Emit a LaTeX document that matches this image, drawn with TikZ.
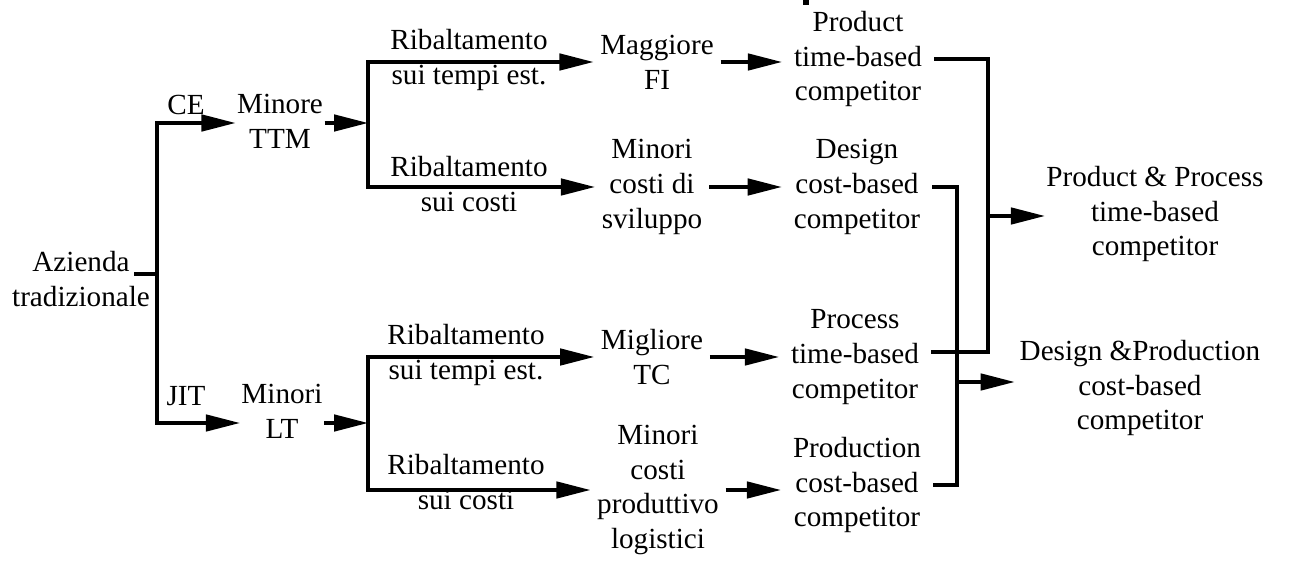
\documentclass[tikz,border=0pt]{standalone}
\usepackage{fontspec}
\setmainfont{Liberation Serif}
\usetikzlibrary{arrows.meta}

\begin{document}
\begin{tikzpicture}[x=0.02cm,y=-0.02cm,line width=1.8pt,
  >={Triangle[length=0.68cm,width=0.33cm]},
  txt/.style={align=center,inner sep=0pt,font=\fontsize{16.6}{19.9}\selectfont},
  mid/.style={txt,inner xsep=3pt},
  comp/.style={txt,inner xsep=6pt}]
\useasboundingbox (0,0) rectangle (1302,567);
% testi
\node[txt] (az) at (81,279) {Azienda\\tradizionale};
\node[txt] (ce) at (186,105) {CE};
\node[txt] (jit) at (186,396) {JIT};
\node[txt] (ttm) at (280,121) {Minore\\TTM};
\node[txt] (lt) at (282,411) {Minori\\LT};
\node[txt] (rt1) at (469,60) {Ribaltamento\\sui tempi est.};
\node[txt] (rc1) at (469,184) {Ribaltamento\\sui costi};
\node[txt] (rt2) at (466,355) {Ribaltamento\\sui tempi est.};
\node[txt] (rc2) at (466,482) {Ribaltamento\\sui costi};
\node[mid] (mag) at (657,62) {Maggiore\\FI};
\node[mid] (svil) at (652,187) {Minori\\costi di\\sviluppo};
\node[mid] (mig) at (652,357) {Migliore\\TC};
\node[mid] (mcp) at (658,490) {Minori\\costi\\produttivo\\logistici};
\node[comp] (ptb) at (858,59) {Product\\time-based\\competitor};
\node[comp] (dcb) at (857,187) {Design\\cost-based\\competitor};
\node[comp] (prc) at (855,357) {Process\\time-based\\competitor};
\node[comp] (pcb) at (857,485) {Production\\cost-based\\competitor};
\node[txt] (pp) at (1155,214) {Product \& Process\\time-based\\competitor};
\node[txt,inner xsep=2pt] (dp) at (1140,388) {Design \&Production\\cost-based\\competitor};
% snodi
\coordinate (j0) at (157,274);
\coordinate (jB) at (368,123);
\coordinate (jC) at (368,423);
\coordinate (kA) at (988,216);
\coordinate (kB) at (957,382);
% collegamenti
\draw ([xshift=-0.34cm]az.east |- j0) -- (j0);
\draw[->] (j0) |- (ttm.west |- jB);
\draw[->] (j0) |- (lt.west |- jC);
\draw[->] (ttm.east |- jB) -- (jB);
\draw[->] (lt.east |- jC) -- (jC);
\draw[->] (jB) |- (mag);
\draw[->] (jB) |- (svil);
\draw[->] (jC) |- (mig);
\draw[->] (jC) |- (mcp);
\draw[->] (mag) -- (ptb.west |- mag);
\draw[->] (svil) -- (dcb.west |- svil);
\draw[->] (mig) -- (prc.west |- mig);
\draw[->] (mcp) -- (pcb.west |- mcp);
\draw (ptb) -| (kA) |- ([yshift=0.1cm]prc.east);
\draw[->] (kA) -- (pp.west |- kA);
\draw (dcb) -| (kB) |- (pcb);
\draw[->] (kB) -- (dp.west |- kB);
\fill (803,0) rectangle (809,5);
\end{tikzpicture}
\end{document}
